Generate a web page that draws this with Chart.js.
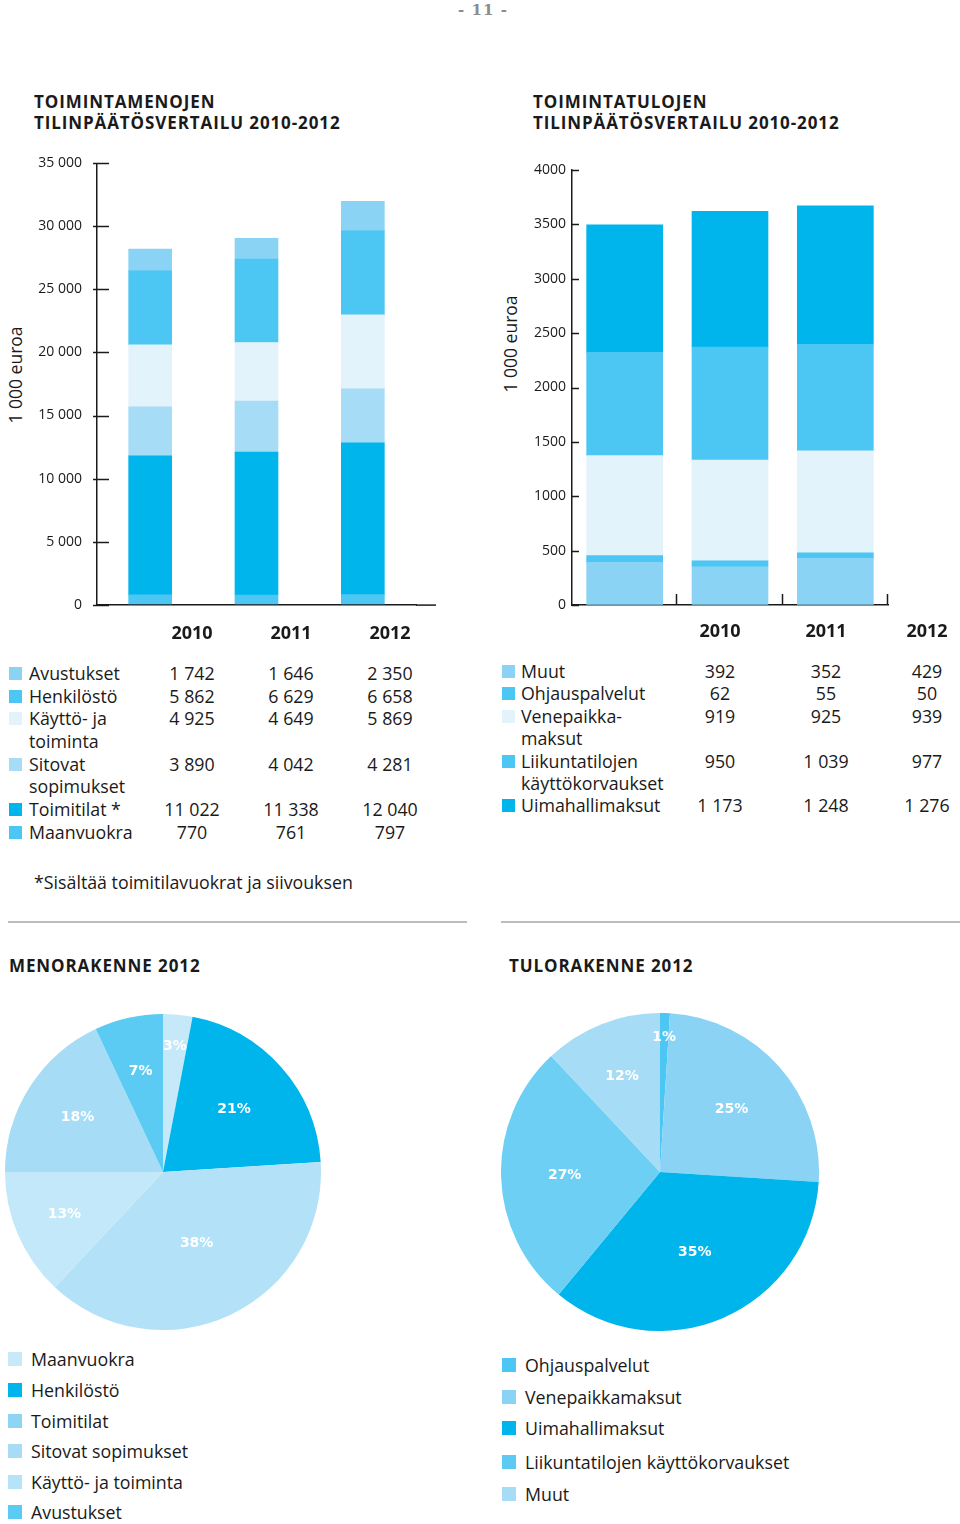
<!DOCTYPE html>
<html lang="fi">
<head>
<meta charset="utf-8">
<title>Toimintamenot ja -tulot 2010-2012</title>
<script src="https://cdn.jsdelivr.net/npm/chart.js@4.4.1/dist/chart.umd.min.js"></script>
<style>
  html, body { margin: 0; padding: 0; background: #fff; }
  body { position: relative; width: 960px; height: 1524px; overflow: hidden;
         font-family: "Open Sans", "Noto Sans", sans-serif; color: #1a1a1a; }
  .abs { position: absolute; }
  .pageno { top: 0; left: 0; width: 966px; text-align: center; font: bold 15px "DejaVu Serif", serif;
            color: #8c8c8c; letter-spacing: 1px; line-height: 20px; }
  .title { font-weight: 700; font-size: 17px; line-height: 21px; letter-spacing: 0.9px; }
  .ytitle { font-size: 17.5px; white-space: nowrap; transform: rotate(-90deg); transform-origin: center; }
  .year { font-weight: 700; font-size: 18px; width: 80px; text-align: center; line-height: 22px; }
  .row { position: absolute; font-size: 17.8px; line-height: 22.5px; white-space: pre-line; }
  .sq { position: absolute; width: 13px; height: 13px; }
  .num { position: absolute; width: 90px; text-align: center; font-size: 17.8px; line-height: 22.5px; }
  .rule { height: 2px; background: #bdbdbd; }
  .leg { position: absolute; font-size: 17.8px; line-height: 22px; white-space: nowrap; }
  .legsq { position: absolute; width: 14px; height: 14px; }
</style>
</head>
<body>

<div class="abs pageno">- 11 -</div>

<div class="abs title" style="left:34px; top:91px;">TOIMINTAMENOJEN<br>TILINPÄÄTÖSVERTAILU 2010-2012</div>
<div class="abs title" style="left:533px; top:91px;">TOIMINTATULOJEN<br>TILINPÄÄTÖSVERTAILU 2010-2012</div>

<div class="abs ytitle" style="left:-35px; top:363px; width:100px; text-align:center;">1 000 euroa</div>
<div class="abs ytitle" style="left:460px; top:332px; width:100px; text-align:center;">1 000 euroa</div>

<canvas id="menoBar" class="abs" style="left:0; top:140px;" width="460" height="488"></canvas>
<canvas id="tuloBar" class="abs" style="left:480px; top:150px;" width="460" height="470"></canvas>

<div id="menoTable"></div>
<div id="tuloTable"></div>

<div class="abs" style="left:34px; top:871px; font-size:17.8px; line-height:22px;">*Sisältää toimitilavuokrat ja siivouksen</div>

<div class="abs rule" style="left:8px; top:921px; width:459px;"></div>
<div class="abs rule" style="left:501px; top:921px; width:459px;"></div>

<div class="abs title" style="left:9px; top:955px;">MENORAKENNE 2012</div>
<div class="abs title" style="left:509px; top:955px;">TULORAKENNE 2012</div>

<canvas id="menoPie" class="abs" style="left:5px; top:1014px;" width="316" height="316"></canvas>
<canvas id="tuloPie" class="abs" style="left:501px; top:1013px;" width="318" height="318"></canvas>

<div id="menoLegend"></div>
<div id="tuloLegend"></div>

<script>
// ---------- Data: toimintamenot (1 000 euroa) ----------
const years = ["2010", "2011", "2012"];

// rivit taulukon järjestyksessä (ylhäältä alas)
const menoNames = ["Avustukset", "Henkilöstö", "Käyttö- ja\ntoiminta", "Sitovat\nsopimukset", "Toimitilat *", "Maanvuokra"];
const menoAvustukset = [1742, 1646, 2350];
const menoHenkilosto = [5862, 6629, 6658];
const menoKaytto     = [4925, 4649, 5869];
const menoSitovat    = [3890, 4042, 4281];
const menoToimitilat = [11022, 11338, 12040];
const menoMaanvuokra = [770, 761, 797];
const menoColors = ["#8bd3f5", "#4cc6f2", "#e2f3fc", "#a6dcf6", "#00b5ec", "#4cc6f2"];
const menoTicks = [0, 5000, 10000, 15000, 20000, 25000, 30000, 35000];

// ---------- Data: toimintatulot (1 000 euroa) ----------
// rivit taulukon järjestyksessä = pinon järjestys alhaalta ylös
const tuloNames = ["Muut", "Ohjauspalvelut", "Venepaikka-\nmaksut", "Liikuntatilojen\nkäyttökorvaukset", "Uimahallimaksut"];
const tuloMuut      = [392, 352, 429];
const tuloOhjaus    = [62, 55, 50];
const tuloVenepaikka = [919, 925, 939];
const tuloLiikunta  = [950, 1039, 977];
const tuloUimahalli = [1173, 1248, 1276];
const tuloColors = ["#8bd3f5", "#4cc6f2", "#e2f3fc", "#4cc6f2", "#00b5ec"];
const tuloTicks = [0, 500, 1000, 1500, 2000, 2500, 3000, 3500, 4000];

// ---------- Data: rakenne 2012 (%) ----------
const menoPieNames  = ["Maanvuokra", "Henkilöstö", "Toimitilat", "Sitovat sopimukset", "Käyttö- ja toiminta", "Avustukset"];
const menoPiePct    = [3, 21, 38, 13, 18, 7];
const menoPieColors = ["#c6e9fa", "#00b5ec", "#b3e2f8", "#c3e8f9", "#a6dcf6", "#5ccbf3"];
const menoLegColors = ["#c8e9f9", "#00b5ec", "#8dd4f5", "#a8dcf6", "#b5e3f8", "#5ccbf3"];

const tuloPieNames  = ["Ohjauspalvelut", "Venepaikkamaksut", "Uimahallimaksut", "Liikuntatilojen käyttökorvaukset", "Muut"];
const tuloPiePct    = [1, 25, 35, 27, 12];
const tuloPieColors = ["#4cc6f2", "#8bd3f5", "#00b5ec", "#6dcff4", "#a6dcf6"];
const tuloLegColors = ["#4cc6f2", "#8bd3f5", "#00b5ec", "#5ccaf3", "#a6dcf6"];

// ---------- Helpers ----------
function sp(n) { return String(n).replace(/\B(?=(\d{3})+(?!\d))/g, "\u00a0"); }

// tikkiviivat akselin yli + x-akselin jatke
const axisMarks = {
  id: "axisMarks",
  afterDraw(chart, args, o) {
    const { ctx } = chart;
    const x = chart.scales.x, y = chart.scales.y;
    ctx.save();
    ctx.strokeStyle = "#1a1a1a";
    ctx.lineWidth = 1.5;
    y.ticks.forEach((t, i) => {
      const py = Math.round(y.getPixelForTick(i)) + 0.5;
      ctx.beginPath();
      ctx.moveTo(y.right - o.yOut, py);
      ctx.lineTo(y.right + o.yIn, py);
      ctx.stroke();
    });
    if (o.xUp) {
      const n = x.ticks.length;
      for (let i = 1; i <= n; i++) {
        const px = Math.round(x.left + x.width * i / n) - 0.5;
        ctx.beginPath();
        ctx.moveTo(px, x.top);
        ctx.lineTo(px, x.top - o.xUp);
        ctx.stroke();
      }
    }
    if (o.xExtend) {
      ctx.beginPath();
      ctx.moveTo(x.right, x.top + 0.5);
      ctx.lineTo(x.right + o.xExtend, x.top + 0.5);
      ctx.stroke();
    }
    ctx.restore();
  }
};

// prosenttiluvut sektoreihin
const sliceLabels = {
  id: "sliceLabels",
  afterDraw(chart, args, o) {
    const { ctx } = chart;
    const meta = chart.getDatasetMeta(0);
    const data = chart.data.datasets[0].data;
    ctx.save();
    ctx.fillStyle = "#ffffff";
    ctx.font = "bold 14px 'DejaVu Sans', sans-serif";
    ctx.textAlign = "center";
    ctx.textBaseline = "middle";
    meta.data.forEach((arc, i) => {
      const mid = (arc.startAngle + arc.endAngle) / 2;
      const r = arc.outerRadius * (o.radius[i] || 0.65);
      ctx.fillText(data[i] + "%", arc.x + Math.cos(mid) * r, arc.y + Math.sin(mid) * r);
    });
    ctx.restore();
  }
};

function barOptions(max, step, yWidth, pad, labelPad, marks, fmt) {
  return {
    responsive: false,
    animation: false,
    layout: { padding: pad },
    plugins: { legend: { display: false }, tooltip: { enabled: false }, axisMarks: marks },
    scales: {
      x: {
        stacked: true,
        grid: { display: true, drawOnChartArea: false, drawTicks: false },
        border: { display: true, color: "#1a1a1a", width: 1.5 },
        ticks: { display: false },
        afterFit: (s) => { s.height = 0; }
      },
      y: {
        stacked: true,
        min: 0, max: max,
        grid: { display: true, drawOnChartArea: false, drawTicks: false },
        border: { display: true, color: "#1a1a1a", width: 1.5 },
        ticks: {
          stepSize: step, padding: labelPad, color: "#1a1a1a",
          font: { family: "'Open Sans', sans-serif", size: 14 },
          callback: fmt
        },
        afterFit: (s) => { s.width = yWidth; }
      }
    }
  };
}

// ---------- Menot: pinottu pylväs ----------
const menoSeries = [menoAvustukset, menoHenkilosto, menoKaytto, menoSitovat, menoToimitilat, menoMaanvuokra];
const menoDatasets = menoSeries.map((d, i) => ({
  label: menoNames[i].replace("\n", " "),
  data: d,
  backgroundColor: menoColors[i],
  borderWidth: 0,
  barThickness: 43
})).reverse();

new Chart(document.getElementById("menoBar"), {
  type: "bar",
  data: { labels: years, datasets: menoDatasets },
  options: barOptions(menoTicks[menoTicks.length - 1], menoTicks[1], 97,
    { top: 22, right: 44, bottom: 0, left: 0 }, 15,
    { yOut: 4, yIn: 12, xExtend: 20 }, (v) => sp(v)),
  plugins: [axisMarks]
});

// ---------- Tulot: pinottu pylväs ----------
const tuloSeries = [tuloMuut, tuloOhjaus, tuloVenepaikka, tuloLiikunta, tuloUimahalli];
const tuloDatasets = tuloSeries.map((d, i) => ({
  label: tuloNames[i].replace("\n", " "),
  data: d,
  backgroundColor: tuloColors[i],
  borderWidth: 0,
  barThickness: 76
}));

new Chart(document.getElementById("tuloBar"), {
  type: "bar",
  data: { labels: years, datasets: tuloDatasets },
  options: barOptions(tuloTicks[tuloTicks.length - 1], tuloTicks[1], 92,
    { top: 20, right: 52, bottom: 15, left: 0 }, 6,
    { yOut: 0, yIn: 7, xUp: 11 }, (v) => String(v)),
  plugins: [axisMarks]
});

// ---------- Taulukot ----------
function buildTable(el, names, series, colors, cols, top, sqLeft, textLeft, lh) {
  let html = "";
  years.forEach((yr, j) => {
    html += `<div class="abs year" style="left:${cols[j] - 40}px; top:${top - 41}px;">${yr}</div>`;
  });
  let y = top;
  names.forEach((nm, i) => {
    const lines = nm.split("\n").length;
    html += `<div class="sq" style="left:${sqLeft}px; top:${y + 5}px; background:${colors[i]};"></div>`;
    html += `<div class="row" style="left:${textLeft}px; top:${y}px;">${nm}</div>`;
    series[i].forEach((v, j) => {
      html += `<div class="num" style="left:${cols[j] - 45}px; top:${y}px;">${sp(v)}</div>`;
    });
    y += lines * lh;
  });
  el.innerHTML = html;
}
buildTable(document.getElementById("menoTable"), menoNames, menoSeries, menoColors,
  [192, 291, 390], 662, 9, 29, 22.7);
buildTable(document.getElementById("tuloTable"), tuloNames, tuloSeries, tuloColors,
  [720, 826, 927], 660, 502, 521, 22.4);

// ---------- Piirakat ----------
function pie(id, names, pct, colors, radius) {
  new Chart(document.getElementById(id), {
    type: "pie",
    data: { labels: names, datasets: [{ data: pct, backgroundColor: colors, borderWidth: 0 }] },
    options: {
      responsive: false,
      animation: false,
      plugins: { legend: { display: false }, tooltip: { enabled: false }, sliceLabels: { radius } }
    },
    plugins: [sliceLabels]
  });
}
pie("menoPie", menoPieNames, menoPiePct, menoPieColors, [0.8, 0.6, 0.5, 0.68, 0.64, 0.65]);
pie("tuloPie", tuloPieNames, tuloPiePct, tuloPieColors, [0.85, 0.6, 0.55, 0.6, 0.65]);

function buildLegend(el, names, colors, left, tops) {
  el.innerHTML = names.map((nm, i) =>
    `<div class="legsq" style="left:${left}px; top:${tops[i] - 7}px; background:${colors[i]};"></div>` +
    `<div class="leg" style="left:${left + 23}px; top:${tops[i] - 11}px;">${nm}</div>`
  ).join("");
}
buildLegend(document.getElementById("menoLegend"), menoPieNames, menoLegColors, 8,
  [1359, 1390, 1421, 1451, 1482, 1512]);
buildLegend(document.getElementById("tuloLegend"), tuloPieNames, tuloLegColors, 502,
  [1365, 1397, 1428, 1462, 1494]);
</script>
</body>
</html>
